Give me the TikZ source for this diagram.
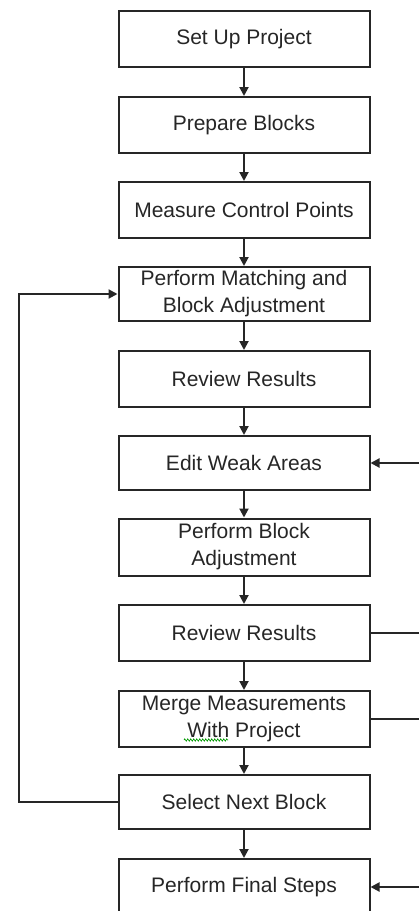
\documentclass[tikz,border=0pt]{standalone}
\usepackage{fontspec}
\setmainfont{Liberation Sans}
\usetikzlibrary{arrows.meta,decorations.pathmorphing}

\tikzset{
  stepbox/.style={draw=black!85, line width=2pt, minimum width=251pt,
    align=center, inner sep=0pt, text=black!85,
    font=\fontsize{21}{27}\selectfont},
  flow/.style={draw=black!85, line width=2pt,
    -{Triangle[length=9pt,width=9pt]}},
  wire/.style={draw=black!85, line width=2pt}
}

\begin{document}
\begin{tikzpicture}[x=1pt,y=-1pt]
  \useasboundingbox[fill=white] (0,0) rectangle (418,911);

  % process steps, top to bottom
  \node[stepbox, minimum height=56pt] (setup)  at (244,39)  {Set Up Project};
  \node[stepbox, minimum height=56pt] (prep)   at (244,125) {Prepare Blocks};
  \node[stepbox, minimum height=56pt] (ctrl)   at (244,210) {Measure Control Points};
  \node[stepbox, minimum height=54pt] (match)  at (244,294) {Perform Matching and\\Block Adjustment};
  \node[stepbox, minimum height=56pt] (rev1)   at (244,379) {Review Results};
  \node[stepbox, minimum height=54pt] (edit)   at (244,463) {Edit Weak Areas};
  \node[stepbox, minimum height=57pt] (adj)    at (244,547) {Perform Block\\Adjustment};
  \node[stepbox, minimum height=56pt] (rev2)   at (244,633) {Review Results};
  \node[stepbox, minimum height=56pt] (merge)  at (244,719) {Merge Measurements\\With Project};
  \node[stepbox, minimum height=54pt] (next)   at (244,802) {Select Next Block};
  \node[stepbox, minimum height=56pt] (final)  at (244,887) {Perform Final Steps};

  % spell-check squiggle under "With"
  \draw[green!60!black, line width=0.6pt,
        decorate, decoration={zigzag, amplitude=1.2pt, segment length=3pt}]
    (184,740) -- (228,740);

  % main sequence
  \draw[flow] (setup) -- (prep);
  \draw[flow] (prep)  -- (ctrl);
  \draw[flow] (ctrl)  -- (match);
  \draw[flow] (match) -- (rev1);
  \draw[flow] (rev1)  -- (edit);
  \draw[flow] (edit)  -- (adj);
  \draw[flow] (adj)   -- (rev2);
  \draw[flow] (rev2)  -- (merge);
  \draw[flow] (merge) -- (next);
  \draw[flow] (next)  -- (final);

  % loop back to the next block
  \coordinate (loopL) at (19,0);
  \draw[flow] (next.west) -- (next.west -| loopL) -- (match.west -| loopL) -- (match.west);

  % branches leaving at the right edge
  \coordinate (edgeR) at (419,0);
  \draw[wire] (rev2.east)  -- (rev2.east -| edgeR);
  \draw[wire] (merge.east) -- (merge.east -| edgeR);
  \draw[flow] (edit.east -| edgeR)  -- (edit.east);
  \draw[flow] (final.east -| edgeR) -- (final.east);
\end{tikzpicture}
\end{document}
